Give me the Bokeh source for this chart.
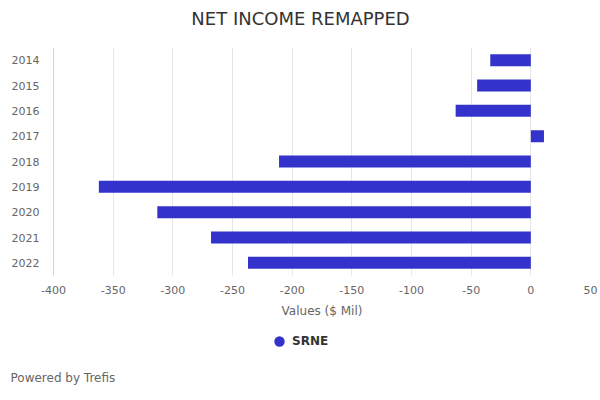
from bokeh.plotting import figure
from bokeh.layouts import column
from bokeh.models import FactorRange, Range1d, FixedTicker, Legend, LegendItem, Title, Label, ColumnDataSource
from bokeh.embed import file_html
from bokeh.resources import INLINE

years = ["2014", "2015", "2016", "2017", "2018", "2019", "2020", "2021", "2022"]
values = [-34, -45, -63, 11, -211, -362, -313, -268, -237]
x_ticks = [-400, -350, -300, -250, -200, -150, -100, -50, 0, 50]
series_name = "SRNE"
title_text = "NET INCOME REMAPPED"
x_label = "Values ($ Mil)"
credit = "Powered by Trefis"

FONT = "DejaVu Sans"
BAR = "#3333cc"


def strip(height, **kw):
    s = figure(width=600, height=height, output_backend="svg", toolbar_location=None,
               x_range=Range1d(0, 1), y_range=Range1d(0, 1),
               x_axis_type=None, y_axis_type=None,
               min_border_left=53, min_border_right=10, **kw)
    s.outline_line_color = None
    s.grid.grid_line_color = None
    s.border_fill_color = "white"
    s.background_fill_color = "white"
    s.title.standoff = 0
    return s


# title strip (frame aligned with the chart below)
t = strip(40, min_border_top=0, min_border_bottom=0)
t.add_layout(Label(x=247, y=22, x_units="screen", y_units="screen", text=title_text,
                   text_align="center", text_baseline="middle", text_font=FONT,
                   text_font_size="18px", text_color="#333333"))

p = figure(width=600, height=285, output_backend="svg", toolbar_location=None,
           y_range=FactorRange(factors=list(reversed(years)), range_padding=0),
           x_range=Range1d(-400, 50),
           min_border_left=53, min_border_right=10, min_border_top=7, min_border_bottom=50)
p.outline_line_color = None
p.background_fill_color = "white"
p.border_fill_color = "white"
p.title.standoff = 0

bars = p.hbar(y=years, right=values, left=0, height=0.475, fill_color=BAR, line_color=None)

# x axis
p.xaxis.ticker = FixedTicker(ticks=x_ticks)
p.xaxis.major_label_overrides = {t_: str(t_) for t_ in x_ticks}
p.xaxis.axis_line_color = None
p.xaxis.major_tick_line_color = None
p.xaxis.minor_tick_line_color = None
p.xaxis.major_tick_out = 0
p.xaxis.major_label_standoff = 10
p.xaxis.major_label_text_font = FONT
p.xaxis.major_label_text_font_size = "11px"
p.xaxis.major_label_text_color = "#666666"
p.xaxis.axis_label = x_label
p.xaxis.axis_label_text_font = FONT
p.xaxis.axis_label_text_font_size = "12px"
p.xaxis.axis_label_text_font_style = "normal"
p.xaxis.axis_label_text_color = "#666666"
p.xaxis.axis_label_standoff = 7

# y axis
p.yaxis.axis_line_color = "#ccd6eb"
p.yaxis.major_tick_line_color = None
p.yaxis.minor_tick_line_color = None
p.yaxis.major_tick_out = 0
p.yaxis.major_label_standoff = 14
p.yaxis.major_label_text_font = FONT
p.yaxis.major_label_text_font_size = "11px"
p.yaxis.major_label_text_color = "#666666"

p.xgrid.grid_line_color = "#e6e6e6"
p.ygrid.grid_line_color = None

# legend + credit strip
f = strip(75, min_border_top=0, min_border_bottom=0)

legend_src = ColumnDataSource(data=dict(x=[float("nan")], y=[float("nan")]))
dummy = f.scatter(x="x", y="y", source=legend_src, marker="circle", size=10,
                  fill_color=BAR, line_color=None)
legend = Legend(items=[LegendItem(label=series_name, renderers=[dummy])],
                location=(213, 1), orientation="horizontal",
                glyph_width=26, glyph_height=26, label_standoff=0,
                padding=0, margin=0, spacing=0,
                border_line_color=None, background_fill_alpha=0,
                label_text_font=FONT, label_text_font_size="12px",
                label_text_font_style="bold", label_text_color="#333333")
f.add_layout(legend, "center")

f.add_layout(Title(text=credit, align="left", offset=-43, vertical_align="middle",
                   text_font=FONT, text_font_size="12px", text_font_style="normal",
                   text_color="#666666", standoff=29), "below")

layout = column(t, p, f, spacing=0)
open("out.html", "w").write(file_html(layout, INLINE))
